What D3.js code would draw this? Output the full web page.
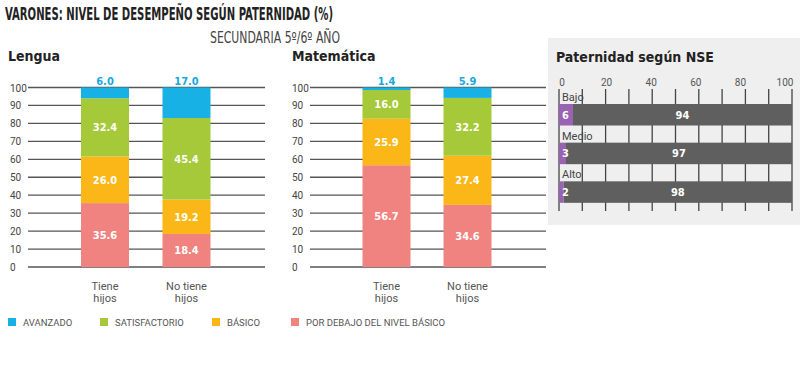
<!DOCTYPE html>
<html><head><meta charset="utf-8">
<script src="https://cdn.jsdelivr.net/npm/d3@7"></script>
<style>body{margin:0;background:#fff}svg{display:block}</style>
</head><body>
<script>
const levels = ["POR DEBAJO DEL NIVEL BÁSICO","BÁSICO","SATISFACTORIO","AVANZADO"];
const legendOrder = ["AVANZADO","SATISFACTORIO","BÁSICO","POR DEBAJO DEL NIVEL BÁSICO"];
const colors = ["#f0837f","#fbb717","#a6c93a","#17b1e6"];
const categories = ["Tiene hijos","No tiene hijos"];
const lenguaTiene = [35.6,26.0,32.4,6.0];
const lenguaNoTiene = [18.4,19.2,45.4,17.0];
const mateTiene = [56.7,25.9,16.0,1.4];
const mateNoTiene = [34.6,27.4,32.2,5.9];
const yTicks = [0,10,20,30,40,50,60,70,80,90,100];
const nseCats = ["Bajo","Medio","Alto"];
const nseSi = [6,3,2];
const nseNo = [94,97,98];
const nseTicks = [0,20,40,60,80,100];

const W=800,H=369;
const svg=d3.select("body").append("svg").attr("width",W).attr("height",H);
const cond="'DejaVu Sans Condensed','Liberation Sans Narrow',sans-serif";
const sans="Roboto,'Open Sans',sans-serif";

svg.append("text").attr("x",5).attr("y",20).text("VARONES: NIVEL DE DESEMPEÑO SEGÚN PATERNIDAD (%)")
 .attr("font-family",cond).attr("font-weight","bold").attr("font-size",18).attr("fill","#222")
 .attr("textLength",328).attr("lengthAdjust","spacingAndGlyphs");
svg.append("text").attr("x",210).attr("y",43).text("SECUNDARIA 5º/6º AÑO")
 .attr("font-family",cond).attr("font-size",15).attr("fill","#444")
 .attr("textLength",130).attr("lengthAdjust","spacingAndGlyphs");

const colorScale=d3.scaleOrdinal().domain(levels).range(colors);

function stackChart(title, titleX, labelX, gx0, gx1, centerRange, data){
  const g=svg.append("g");
  g.append("text").attr("x",titleX).attr("y",61).text(title)
   .attr("font-family",cond).attr("font-weight","bold").attr("font-size",14).attr("fill","#222");
  const y=d3.scaleLinear().domain([0,100]).range([267,87.5]);
  const x=d3.scalePoint().domain(categories).range(centerRange);
  const bw=48;
  g.selectAll(".grid").data(yTicks).join("line")
   .attr("x1",gx0).attr("x2",gx1).attr("y1",d=>y(d)).attr("y2",d=>y(d))
   .attr("stroke","#555").attr("stroke-width",1.3);
  g.selectAll(".tl").data(yTicks).join("text")
   .attr("x",labelX).attr("y",d=>y(d)+4).text(d=>d)
   .attr("font-family",sans).attr("font-size",10).attr("fill","#444");
  categories.forEach((c,i)=>{
    const vals=data[i];
    const st=d3.stack().keys(levels)([Object.fromEntries(levels.map((l,k)=>[l,vals[k]]))]);
    st.forEach((s,k)=>{
      const y0=s[0][0], y1=Math.min(s[0][1],100);
      g.append("rect").attr("x",x(c)-bw/2).attr("width",bw)
       .attr("y",y(y1)).attr("height",y(y0)-y(y1)).attr("fill",colorScale(levels[k]));
      const v=vals[k];
      if(k<3){
        g.append("text").attr("x",x(c)).attr("y",y((y0+y1)/2)+4).text(v.toFixed(1))
         .attr("text-anchor","middle").attr("font-family",cond).attr("font-weight","bold")
         .attr("font-size",11).attr("fill","#fff");
      } else {
        g.append("text").attr("x",x(c)).attr("y",y(100)-3).text(v.toFixed(1))
         .attr("text-anchor","middle").attr("font-family",cond).attr("font-weight","bold")
         .attr("font-size",11).attr("fill","#17a9e0");
      }
    });
    const parts=c==="Tiene hijos"?["Tiene","hijos"]:["No tiene","hijos"];
    parts.forEach((p,j)=>g.append("text").attr("x",x(c)).attr("y",290+j*12).text(p)
      .attr("text-anchor","middle").attr("font-family",sans).attr("font-size",11).attr("fill","#555"));
  });
}
stackChart("Lengua",8,10,28,265,[105,186.5],[lenguaTiene,lenguaNoTiene]);
stackChart("Matemática",292,292,310,546,[386.5,467.5],[mateTiene,mateNoTiene]);

// legend
const legX=[8,100,212,291];
legendOrder.forEach((l,i)=>{
  svg.append("rect").attr("x",legX[i]).attr("y",318).attr("width",8).attr("height",8).attr("fill",colorScale(l));
  svg.append("text").attr("x",legX[i]+15).attr("y",326).text(l)
   .attr("font-family",sans).attr("font-size",9.5).attr("fill","#555");
});

// NSE panel
const p=svg.append("g");
p.append("rect").attr("x",548).attr("y",38).attr("width",252).attr("height",187).attr("fill","#efefef");
p.append("text").attr("x",556).attr("y",62).text("Paternidad según NSE")
 .attr("font-family",cond).attr("font-weight","bold").attr("font-size",14).attr("fill","#222");
const nx=d3.scaleLinear().domain([0,100]).range([559,792]);
const nxLabel=d3.scaleLinear().domain([0,100]).range([562,785]);
p.selectAll(".nt").data(nseTicks).join("text").attr("x",d=>nxLabel(d)).attr("y",86).text(d=>d)
 .attr("text-anchor","middle").attr("font-family",sans).attr("font-size",10).attr("fill","#555");
p.selectAll(".vg").data(d3.range(0,101,10)).join("line")
 .attr("x1",d=>nx(d)).attr("x2",d=>nx(d)).attr("y1",89).attr("y2",211)
 .attr("stroke","#444").attr("stroke-width",1.3);
const ny=d3.scaleBand().domain(nseCats).range([92,208]).paddingInner(0.0);
nseCats.forEach((c,i)=>{
  const top=ny(c)+12, h=21.5;
  p.append("text").attr("x",562).attr("y",ny(c)+9).text(c)
   .attr("font-family",sans).attr("font-size",11).attr("fill","#444");
  p.append("rect").attr("x",nx(0)).attr("y",top).attr("width",nx(nseSi[i])-nx(0)).attr("height",h).attr("fill","#9a62b3");
  p.append("rect").attr("x",nx(nseSi[i])).attr("y",top).attr("width",nx(100)-nx(nseSi[i])).attr("height",h).attr("fill","#5f5f5f");
  p.append("text").attr("x",nx(0)+3).attr("y",top+h/2+4).text(nseSi[i])
   .attr("font-family",cond).attr("font-weight","bold").attr("font-size",11).attr("fill","#fff");
  p.append("text").attr("x",(nx(nseSi[i])+nx(100))/2).attr("y",top+h/2+4).text(nseNo[i])
   .attr("text-anchor","middle").attr("font-family",cond).attr("font-weight","bold").attr("font-size",11).attr("fill","#fff");
});
</script>
</body></html>
